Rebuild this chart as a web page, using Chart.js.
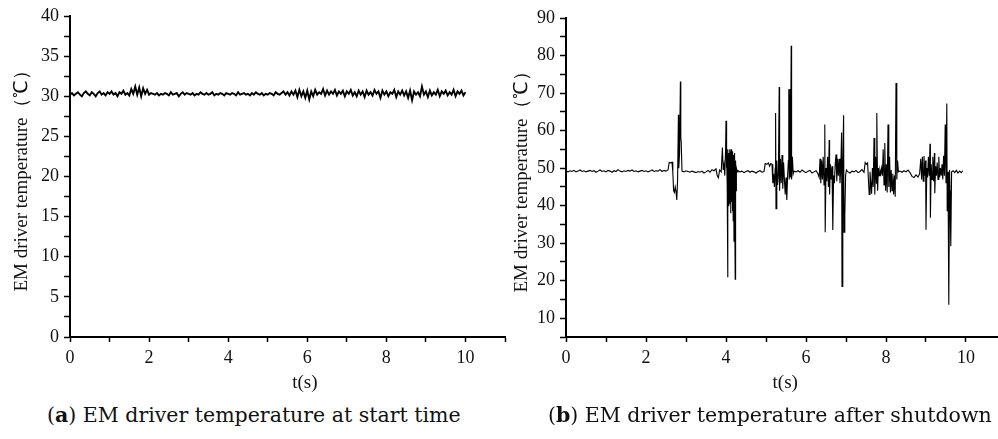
<!DOCTYPE html>
<html>
<head>
<meta charset="utf-8">
<script src="https://cdn.jsdelivr.net/npm/chart.js@4.4.1/dist/chart.umd.min.js"></script>
<style>
  html, body { margin: 0; padding: 0; background: #fff; overflow: hidden; }
  body { width: 998px; height: 439px; position: relative; }
  canvas { position: absolute; top: 0; }
  #chart-start { left: 0; }
  #chart-shutdown { left: 500px; }
  .caption { position: absolute; top: 403px; font-family: 'DejaVu Serif', serif; font-size: 20.5px; color: #111; white-space: nowrap; }
</style>
</head>
<body>
<canvas id="chart-start" width="510" height="400"></canvas>
<canvas id="chart-shutdown" width="498" height="400"></canvas>
<div class="caption" id="cap-a" style="left:47px">(<b>a</b>) EM driver temperature at start time</div>
<div class="caption" id="cap-b" style="left:548px">(<b>b</b>) EM driver temperature after shutdown</div>
<script>
// Dados
const xTickLabels = [0, 2, 4, 6, 8, 10];
const startTickLabels = [0, 5, 10, 15, 20, 25, 30, 35, 40];
const shutdownTickLabels = [10, 20, 30, 40, 50, 60, 70, 80, 90];

// (a) amostras a cada 0.05 s, de 0 a 10 s
const startStep = 0.05;
const startTemp = [
  30.2, 30.4, 30.1, 30.3, 30.5, 30.2, 30.0, 30.4, 30.6, 30.3,
  30.1, 30.5, 30.3, 30.0, 30.4, 30.6, 30.2, 30.4, 30.1, 30.5,
  30.3, 30.6, 30.2, 30.4, 30.0, 30.5, 30.3, 30.7, 30.2, 30.4,
  30.1, 30.9, 30.3, 31.2, 30.2, 31.1, 30.0, 31.0, 30.3, 30.8,
  30.2, 30.4, 30.3, 30.2, 30.4, 30.1, 30.3, 30.2, 30.4, 30.3,
  30.1, 30.5, 30.2, 30.3, 30.4, 30.0, 30.3, 30.5, 30.2, 30.4,
  30.3, 30.2, 30.4, 30.1, 30.3, 30.2, 30.5, 30.3, 30.2, 30.4,
  30.2, 30.3, 30.5, 30.1, 30.3, 30.2, 30.4, 30.3, 30.1, 30.4,
  30.3, 30.2, 30.4, 30.3, 30.1, 30.5, 30.2, 30.3, 30.4, 30.2,
  30.3, 30.1, 30.4, 30.2, 30.5, 30.3, 30.2, 30.4, 30.1, 30.3,
  30.2, 30.4, 30.3, 30.1, 30.5, 30.3, 30.2, 30.4, 30.6, 30.2,
  30.5, 30.1, 30.6, 30.2, 30.7, 29.9, 30.8, 30.0, 30.6, 29.8,
  30.7, 29.6, 30.6, 30.0, 30.8, 30.2, 30.5, 30.3, 30.9, 30.1,
  30.7, 30.2, 30.6, 30.3, 30.8, 30.1, 30.6, 30.3, 30.7, 30.0,
  30.6, 30.3, 30.8, 30.1, 30.5, 30.0, 30.7, 30.2, 30.6, 29.9,
  30.7, 30.2, 30.5, 30.1, 30.8, 30.3, 30.6, 29.8, 30.7, 30.2,
  30.6, 30.0, 30.5, 30.3, 30.8, 29.9, 30.6, 30.2, 30.7, 30.1,
  30.6, 29.8, 30.7, 29.5, 30.6, 30.2, 30.5, 30.0, 31.2, 30.2,
  30.6, 29.9, 30.7, 30.1, 30.5, 30.2, 30.8, 30.0, 30.6, 30.3,
  30.7, 30.1, 30.5, 30.2, 30.8, 30.0, 30.6, 30.3, 30.7, 30.1,
  30.5
];

// (b) tempo (s) e temperatura, amostragem mais fina nos picos
const shutdownTime = [
  0, 0.05, 0.1, 0.15, 0.2, 0.25, 0.3, 0.35, 0.4, 0.45,
  0.5, 0.55, 0.6, 0.65, 0.7, 0.75, 0.8, 0.85, 0.9, 0.95,
  1, 1.05, 1.1, 1.15, 1.2, 1.25, 1.3, 1.35, 1.4, 1.45,
  1.5, 1.55, 1.6, 1.65, 1.7, 1.75, 1.8, 1.85, 1.9, 1.95,
  2, 2.05, 2.1, 2.15, 2.2, 2.25, 2.3, 2.35, 2.4, 2.45, 2.5,
  2.55, 2.58, 2.62, 2.65, 2.67, 2.69, 2.71, 2.73, 2.75, 2.77, 2.79, 2.81, 2.82, 2.84, 2.86, 2.87, 2.88, 2.9,
  2.95, 3, 3.05, 3.1, 3.15, 3.2, 3.25, 3.3, 3.35, 3.4, 3.45, 3.5, 3.55, 3.6, 3.65, 3.7, 3.75, 3.78, 3.81, 3.84,
  3.88, 3.91, 3.93, 3.95, 3.97, 3.99,
  4, 4.01, 4.02, 4.03, 4.04, 4.05, 4.06, 4.07, 4.08, 4.09,
  4.1, 4.11, 4.12, 4.13, 4.14, 4.15, 4.16, 4.17, 4.18, 4.19,
  4.2, 4.21, 4.22, 4.23, 4.24, 4.25, 4.26, 4.28,
  4.3, 4.35, 4.4, 4.45, 4.5, 4.55, 4.6, 4.65, 4.7, 4.75, 4.8, 4.85, 4.9, 4.95,
  4.98, 5.02, 5.06, 5.09, 5.12, 5.15, 5.17, 5.19, 5.21, 5.23,
  5.24, 5.25, 5.27, 5.29, 5.31, 5.33, 5.34, 5.36, 5.38, 5.4,
  5.42, 5.44, 5.46, 5.48, 5.5, 5.52, 5.54, 5.56, 5.57, 5.58,
  5.6, 5.61, 5.63, 5.64, 5.66, 5.68, 5.7,
  5.75, 5.8, 5.85, 5.9, 5.95, 6, 6.05, 6.1, 6.15, 6.2, 6.25, 6.3,
  6.33, 6.35, 6.37, 6.39, 6.41, 6.43, 6.45, 6.47, 6.48, 6.5,
  6.52, 6.54, 6.56, 6.58, 6.59, 6.61, 6.63, 6.65, 6.67, 6.69,
  6.71, 6.73, 6.75, 6.77, 6.79, 6.81, 6.83, 6.85, 6.87, 6.89,
  6.9, 6.92, 6.94, 6.95, 6.97, 6.99, 7.01,
  7.05, 7.1, 7.15, 7.2, 7.25, 7.3, 7.35, 7.4, 7.45,
  7.48, 7.51, 7.54, 7.56, 7.58, 7.6, 7.62, 7.64, 7.66, 7.68,
  7.7, 7.72, 7.74, 7.76, 7.77, 7.79, 7.81, 7.83, 7.85, 7.87,
  7.89, 7.91, 7.93, 7.95, 7.97, 7.99, 8.01, 8.03, 8.05, 8.07,
  8.09, 8.11, 8.13, 8.15, 8.17, 8.19, 8.21, 8.23, 8.25, 8.27,
  8.29, 8.31,
  8.35, 8.4, 8.45, 8.5, 8.55, 8.6, 8.65, 8.7, 8.75, 8.8, 8.84,
  8.87, 8.89, 8.91, 8.93, 8.95, 8.97, 8.99, 9, 9.02, 9.04,
  9.06, 9.08, 9.1, 9.11, 9.13, 9.15, 9.17, 9.19, 9.21, 9.22,
  9.24, 9.26, 9.28, 9.3, 9.32, 9.34, 9.36, 9.38, 9.4, 9.42,
  9.44, 9.46, 9.48, 9.5, 9.52, 9.53, 9.55, 9.57, 9.59, 9.6,
  9.62, 9.64,
  9.68, 9.72, 9.76, 9.8, 9.84, 9.88, 9.92
];
const shutdownTemp = [
  49.2, 49.0, 49.3, 49.1, 49.4, 49.0, 49.2, 49.5, 49.1, 49.3,
  49.0, 49.2, 49.4, 49.1, 49.3, 48.9, 49.2, 49.5, 49.1, 49.3,
  49.0, 49.4, 49.2, 48.9, 49.3, 49.1, 49.6, 49.2, 49.0, 49.3,
  49.1, 49.4, 49.2, 49.5, 49.1, 49.3, 49.0, 49.2, 49.4, 49.1,
  49.3, 49.0, 49.2, 49.5, 49.1, 49.3, 49.2, 49.6, 49.1, 49.4, 49.2,
  49.5, 51.5, 51.4, 51.6, 49.0, 44.0, 43.5, 45.0, 43.8, 41.5, 47.0, 64.2, 50.0, 54.0, 73.1, 58.0, 57.0, 49.2,
  49.0, 49.3, 49.1, 48.9, 49.2, 49.0, 48.8, 49.1, 48.9, 49.2, 48.7, 49.0, 49.4, 48.9, 49.6, 49.3, 49.8, 48.0, 47.4, 49.5,
  49.0, 55.5, 49.5, 51.0, 48.0, 55.0,
  62.6, 50.0, 54.5, 45.0, 20.9, 55.0, 40.0, 54.0, 46.0, 55.0,
  40.5, 54.5, 38.0, 55.0, 41.0, 54.0, 38.5, 54.5, 36.0, 53.5,
  30.5, 54.0, 45.0, 20.4, 52.0, 44.0, 50.0, 49.0,
  49.3, 49.0, 49.2, 48.8, 49.1, 49.3, 48.9, 49.2, 49.0, 48.7, 49.1, 49.3, 48.9, 49.1,
  51.2, 51.0, 51.4, 50.5, 51.2, 51.0, 46.0, 48.5, 45.0, 50.0,
  64.7, 39.2, 52.0, 45.5, 48.0, 71.6, 44.0, 52.5, 46.0, 53.5,
  44.5, 51.5, 47.0, 43.0, 47.5, 41.5, 48.0, 52.0, 71.0, 47.0,
  71.1, 47.5, 82.6, 47.0, 53.0, 48.5, 49.2,
  49.0, 49.3, 48.9, 49.5, 49.1, 48.8, 49.2, 49.4, 48.7, 49.0, 49.3, 48.5,
  47.5, 52.5, 46.0, 52.0, 47.0, 53.0, 45.5, 61.6, 32.9, 50.0,
  46.5, 53.0, 45.0, 57.5, 43.0, 51.0, 47.0, 50.5, 33.5, 48.0,
  46.0, 51.0, 53.6, 46.5, 52.5, 48.0, 52.5, 46.0, 50.0, 59.5,
  18.5, 52.0, 64.1, 32.9, 37.1, 48.0, 49.5,
  49.0, 48.7, 49.2, 49.0, 49.4, 48.8, 49.1, 49.6, 48.9,
  51.5, 51.0, 51.4, 47.0, 43.0, 49.0, 46.0, 43.2, 50.0, 45.0,
  58.0, 43.0, 53.0, 46.0, 64.7, 44.0, 50.0, 48.0, 49.5, 48.5,
  50.0, 48.0, 55.0, 45.5, 56.7, 44.0, 51.0, 43.5, 61.6, 45.0,
  53.0, 43.5, 49.5, 44.0, 48.5, 43.0, 48.0, 42.4, 72.7, 47.0,
  52.0, 49.0,
  49.2, 48.9, 49.3, 49.0, 49.5, 48.8, 47.8, 47.5, 48.2, 47.6, 48.5,
  52.5, 47.0, 53.0, 46.5, 53.2, 48.0, 52.0, 33.6, 50.0, 47.5,
  53.0, 48.0, 56.5, 36.8, 51.0, 47.0, 53.0, 46.5, 54.0, 43.3,
  50.5, 48.0, 51.5, 47.0, 53.0, 47.5, 50.0, 48.0, 51.0, 47.0,
  53.3, 48.0, 61.6, 46.0, 67.2, 38.5, 49.0, 13.6, 49.5, 44.0,
  29.2, 49.0,
  49.3, 48.8, 49.4, 48.7, 49.2, 48.8, 49.3
];

const serif = "'Liberation Serif', 'Times New Roman', serif";
const tickFont = { family: serif, size: 18 };
const titleFont = { family: serif, size: 19 };
const ink = '#111';

const labelFor = (value, list) =>
  list.some(v => Math.abs(v - value) < 1e-6) ? String(value) : '';

// titulo do eixo x desenhado sob um valor do eixo (como no original)
const xTitlePlugin = {
  id: 'xTitle',
  afterDraw(chart, args, opts) {
    const { ctx } = chart;
    const x = chart.scales.x;
    ctx.save();
    ctx.font = `${titleFont.size}px ${titleFont.family}`;
    ctx.fillStyle = ink;
    ctx.textAlign = 'center';
    ctx.textBaseline = 'middle';
    ctx.fillText(opts.text, x.getPixelForValue(opts.at), x.top + opts.offset);
    ctx.restore();
  }
};

const buildChart = (canvasId, points, cfg) => new Chart(document.getElementById(canvasId), {
  type: 'line',
  data: {
    datasets: [{
      data: points,
      borderColor: '#000',
      borderWidth: cfg.lineWidth,
      pointRadius: 0,
      tension: 0,
      fill: false
    }]
  },
  options: {
    responsive: false,
    animation: false,
    events: [],
    layout: { padding: { top: cfg.top, right: cfg.right, left: 0, bottom: 0 } },
    plugins: {
      legend: { display: false },
      tooltip: { enabled: false },
      xTitle: { text: 't(s)', at: cfg.titleAt, offset: 46 }
    },
    scales: {
      x: {
        type: 'linear',
        min: 0,
        max: cfg.xMax,
        ticks: {
          stepSize: 1, autoSkip: false, includeBounds: false, maxRotation: 0,
          padding: 5, font: tickFont, color: ink,
          callback: v => labelFor(v, xTickLabels)
        },
        grid: { drawOnChartArea: false, tickLength: 5, tickWidth: 1.5, tickColor: '#000', color: '#000' },
        border: { color: '#000', width: 2 },
        afterFit: s => { s.height = cfg.xAxisHeight; }
      },
      y: {
        min: cfg.yMin,
        max: cfg.yMax,
        ticks: {
          stepSize: cfg.yStep, autoSkip: false, padding: 5, font: tickFont, color: ink,
          callback: v => labelFor(v, cfg.yLabels)
        },
        grid: { drawOnChartArea: false, tickLength: 6, tickWidth: 1.5, tickColor: '#000', color: '#000' },
        border: { color: '#000', width: 2 },
        title: {
          display: true,
          text: 'EM driver temperature（℃）',
          font: titleFont,
          color: ink,
          padding: { top: 11, bottom: 0 }
        },
        afterFit: s => { s.width = cfg.yAxisWidth; }
      }
    }
  },
  plugins: [xTitlePlugin]
});

buildChart('chart-start', startTemp.map((v, i) => ({ x: i * startStep, y: v })), {
  lineWidth: 1.9, top: 16, right: 5, xMax: 11, xAxisHeight: 63,
  yMin: 0, yMax: 40, yStep: 2.5, yLabels: startTickLabels, yAxisWidth: 70, titleAt: 5.94
});

buildChart('chart-shutdown', shutdownTime.map((t, i) => ({ x: t, y: shutdownTemp[i] })), {
  lineWidth: 1.1, top: 18, right: 0, xMax: 10.8, xAxisHeight: 63,
  yMin: 5, yMax: 90, yStep: 5, yLabels: shutdownTickLabels, yAxisWidth: 66, titleAt: 5.48
});
</script>
</body>
</html>
